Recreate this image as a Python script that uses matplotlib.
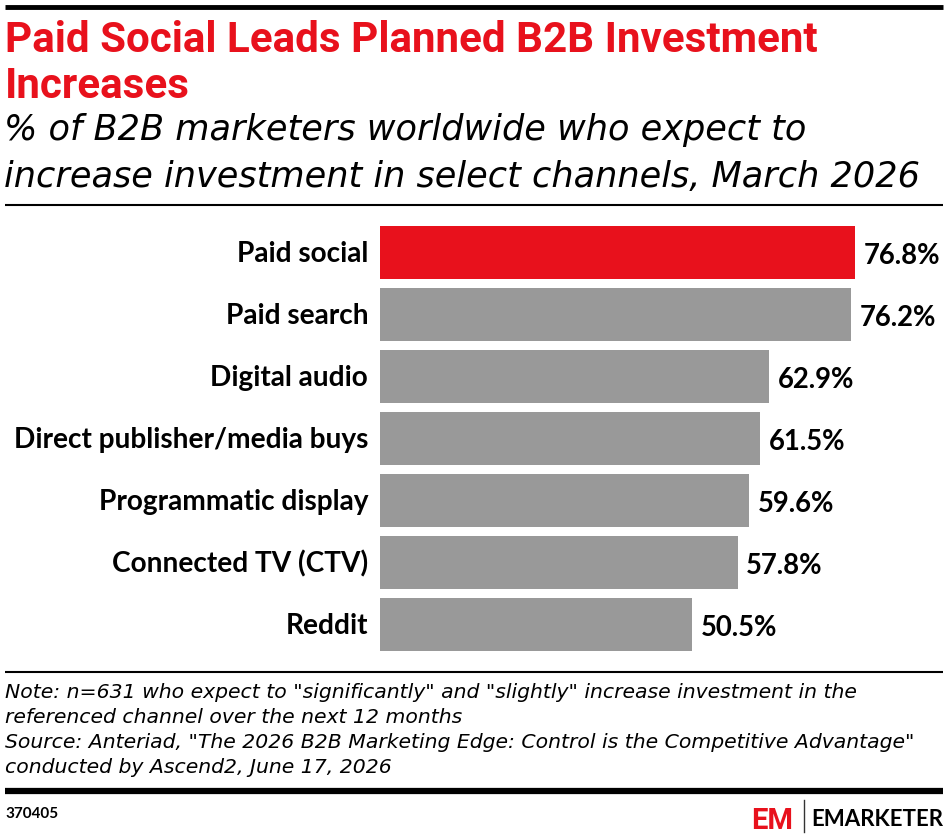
import matplotlib
matplotlib.use('Agg')
import matplotlib.pyplot as plt
from matplotlib.lines import Line2D

channels = ['Paid social', 'Paid search', 'Digital audio', 'Direct publisher/media buys',
            'Programmatic display', 'Connected TV (CTV)', 'Reddit']
values = [76.8, 76.2, 62.9, 61.5, 59.6, 57.8, 50.5]
value_labels = ['76.8%', '76.2%', '62.9%', '61.5%', '59.6%', '57.8%', '50.5%']

title_lines = ['Paid Social Leads Planned B2B Investment', 'Increases']
subtitle_lines = ['% of B2B marketers worldwide who expect to',
                  'increase investment in select channels, March 2026']
note_lines = ['Note: n=631 who expect to "significantly" and "slightly" increase investment in the',
              'referenced channel over the next 12 months',
              'Source: Anteriad, "The 2026 B2B Marketing Edge: Control is the Competitive Advantage"',
              'conducted by Ascend2, June 17, 2026']
chart_id = '370405'

RED = '#E8111C'
GRAY = '#999999'
W, H = 948, 836

fig = plt.figure(figsize=(W / 100, H / 100), dpi=100)


def fx(px):
    return px / W


def fy(py):
    return 1 - py / H


def hline(y, x0, x1, lw, color='black'):
    fig.add_artist(Line2D([fx(x0), fx(x1)], [fy(y), fy(y)], lw=lw, color=color,
                          transform=fig.transFigure, solid_capstyle='butt'))


# header
hline(7, 5, 943, 3.5)
for line, base in zip(title_lines, [52, 98]):
    fig.text(fx(5), fy(base), line, color=RED, fontsize=30.3, fontweight='bold',
             family='Roboto', va='baseline', ha='left')
for line, base in zip(subtitle_lines, [140, 187]):
    fig.text(fx(4), fy(base), line, color='black', fontsize=25.3, style='italic',
             family='DejaVu Sans', va='baseline', ha='left')
hline(204.5, 5, 943, 1.5)

# bars
ax = fig.add_axes([fx(380), fy(655.5), fx(943) - fx(380), fy(221.5) - fy(655.5)])
ypos = list(range(len(channels)))
colors = [RED] + [GRAY] * (len(channels) - 1)
ax.barh(ypos, values, height=0.863, color=colors)
ax.set_ylim(len(channels) - 0.5, -0.5)
ax.set_xlim(0, 91)
ax.axis('off')
for i, (v, lab) in enumerate(zip(values, value_labels)):
    ax.text(v + 1.4, i + 0.06, lab, va='center', ha='left', fontsize=19.8,
            fontweight='bold', family='Lato')
    ax.text(-1.9, i + 0.03, channels[i], va='center', ha='right', fontsize=20.2,
            fontweight='bold', family='Lato')

# footer
hline(672, 5, 943, 1.5)
for line, base in zip(note_lines, [698, 723, 748, 773]):
    fig.text(fx(5), fy(base), line, fontsize=14.7, style='italic', family='DejaVu Sans',
             va='baseline', ha='left')
hline(791, 5, 943, 4.5)
fig.text(fx(5), fy(818), chart_id, fontsize=11, fontweight='bold', family='Lato',
         va='baseline', ha='left')
fig.text(fx(751), fy(829), 'EM', color=RED, fontsize=21, fontweight='bold',
         family='Roboto', va='baseline', ha='left')
fig.add_artist(Line2D([fx(804), fx(804)], [fy(800), fy(832)], lw=1, color='#333333',
                      transform=fig.transFigure))
fig.text(fx(943), fy(826), 'EMARKETER', fontsize=16, fontweight='bold', family='Lato',
         va='baseline', ha='right')

fig.savefig('out.png', dpi=100)
